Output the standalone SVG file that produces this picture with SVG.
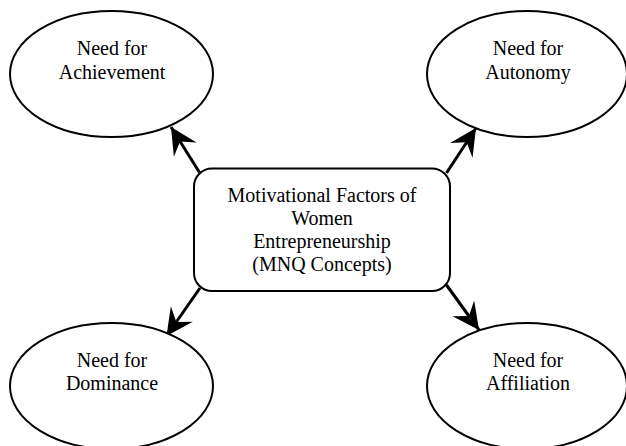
<svg xmlns="http://www.w3.org/2000/svg" width="626" height="446" viewBox="0 0 626 446">
<style>
.shape{fill:#fff;stroke:#000;stroke-width:2}
.lbl{font-family:"Liberation Serif","Times New Roman",serif;font-size:20px;fill:#000;text-anchor:middle}
.conn{fill:none;stroke:#000;stroke-width:3}
</style>
<defs>
<marker id="arr" markerUnits="userSpaceOnUse" markerWidth="30" markerHeight="30" viewBox="-26 -14 28 28" refX="0" refY="0" orient="auto">
<path d="M0,0 L-25,-12.5 L-16,0 L-25,12.5 Z" fill="#000"/>
</marker>
</defs>
<rect width="626" height="446" fill="#fff"/>
<g id="connectors">
<line class="conn" x1="199.5" y1="172.5" x2="171" y2="127" marker-end="url(#arr)"/>
<line class="conn" x1="446.5" y1="173" x2="476" y2="128" marker-end="url(#arr)"/>
<line class="conn" x1="200" y1="288" x2="166.5" y2="336" marker-end="url(#arr)"/>
<line class="conn" x1="446.5" y1="285" x2="479" y2="330" marker-end="url(#arr)"/>
</g>
<g id="center">
<rect class="shape" x="194" y="168.5" width="256" height="122.5" rx="18" ry="18"/>
<text class="lbl" x="322" y="201.5">Motivational Factors of</text>
<text class="lbl" x="322" y="224.5">Women</text>
<text class="lbl" x="322" y="247.5">Entrepreneurship</text>
<text class="lbl" x="322" y="270.5">(MNQ Concepts)</text>
</g>
<g id="achievement">
<ellipse class="shape" cx="111.5" cy="74" rx="101.5" ry="63"/>
<text class="lbl" x="112" y="55">Need for</text>
<text class="lbl" x="112" y="79">Achievement</text>
</g>
<g id="autonomy">
<ellipse class="shape" cx="527" cy="74" rx="100" ry="63"/>
<text class="lbl" x="528" y="55">Need for</text>
<text class="lbl" x="528" y="79">Autonomy</text>
</g>
<g id="dominance">
<ellipse class="shape" cx="111.5" cy="386" rx="101.5" ry="63"/>
<text class="lbl" x="112" y="367">Need for</text>
<text class="lbl" x="112" y="390">Dominance</text>
</g>
<g id="affiliation">
<ellipse class="shape" cx="527" cy="386" rx="100" ry="63"/>
<text class="lbl" x="528" y="367">Need for</text>
<text class="lbl" x="528" y="390">Affiliation</text>
</g>
</svg>
